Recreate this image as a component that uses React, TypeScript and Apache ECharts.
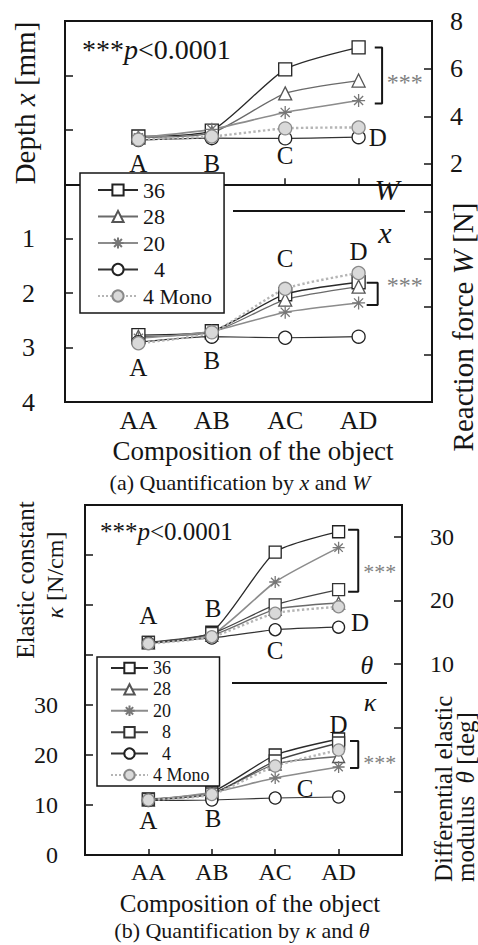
import React, { useEffect, useRef } from "react";
import * as echarts from "echarts";

// ---- data ----
const categories = ["AA", "AB", "AC", "AD"];
const groupsA = ["36", "28", "20", "4", "4 Mono"];
const groupsB = ["36", "28", "20", "8", "4", "4 Mono"];

// (a) reaction force W [N]
const w36 = [3.15, 3.4, 5.97, 6.89];
const w28 = [3.1, 3.3, 4.96, 5.5];
const w20 = [3.1, 3.45, 4.16, 4.66];
const w4 = [3.0, 3.08, 3.07, 3.12];
const wMono = [3.02, 3.15, 3.49, 3.53];

// (a) depth x [mm]
const x36 = [2.77, 2.7, 2.02, 1.8];
const x28 = [2.8, 2.72, 2.12, 1.88];
const x20 = [2.83, 2.7, 2.35, 2.18];
const x4 = [2.9, 2.8, 2.82, 2.8];
const xMono = [2.92, 2.72, 1.92, 1.63];

// (b) differential elastic modulus theta [deg]
const t36 = [13.4, 15.0, 27.6, 30.8];
const t28 = [13.3, 14.5, 18.6, 19.6];
const t20 = [13.3, 14.6, 22.9, 28.3];
const t8 = [13.4, 14.8, 19.3, 21.7];
const t4 = [13.3, 14.1, 15.4, 15.8];
const tMono = [13.2, 14.3, 18.0, 19.0];

// (b) elastic constant kappa [N/cm]
const k36 = [11.2, 12.6, 20.0, 23.2];
const k28 = [11.0, 12.3, 18.2, 19.7];
const k20 = [11.0, 12.5, 15.4, 17.6];
const k8 = [11.1, 12.2, 18.8, 22.4];
const k4 = [10.9, 11.0, 11.4, 11.6];
const kMono = [11.0, 12.1, 17.8, 21.0];

// letter annotations [x, value, text]
const lettersW = [[1, 2.0, "A"], [2, 2.0, "B"], [3, 2.35, "C"], [4.26, 3.1, "D"]];
const lettersX = [[1, 3.36, "A"], [2, 3.23, "B"], [3, 1.37, "C"], [4, 1.24, "D"]];
const lettersT = [[1, 17.7, "A"], [2.02, 18.8, "B"], [3, 12.2, "C"], [4.34, 16.6, "D"]];
const lettersK = [[1, 7.0, "A"], [2.02, 7.4, "B"], [3.47, 13.4, "C"], [4, 26.2, "D"]];

// significance brackets [xStart, xEnd, top, bottom] and star positions [x, value]
const bracketW = [4.22, 4.32, 6.89, 4.54];
const bracketX = [4.11, 4.26, 1.81, 2.22];
const bracketT = [4.15, 4.31, 31.1, 21.35];
const bracketK = [4.18, 4.31, 22.8, 17.4];
const starsW = [4.63, 5.45];
const starsX = [4.63, 1.85];
const starsT = [4.65, 24.6];
const starsK = [4.65, 18.6];

const FONT = "'Liberation Serif', 'DejaVu Serif', serif";
const INK = "#151515";
const STAR = "#808080";
const ASTERISK =
  "path://M5,0L5,10M0,5L10,5M1.5,1.5L8.5,8.5M1.5,8.5L8.5,1.5";

const groupStyle: Record<string, any> = {
  "36": { symbol: "rect", line: "#2a2a2a", stroke: "#222", fill: "#fff", lw: 1.3, type: "solid" },
  "28": { symbol: "triangle", line: "#6a6a6a", stroke: "#555", fill: "#fff", lw: 1.3, type: "solid" },
  "20": { symbol: ASTERISK, line: "#8c8c8c", stroke: "#777", fill: "#777", lw: 1.6, type: "solid" },
  "8": { symbol: "rect", line: "#444", stroke: "#333", fill: "#fff", lw: 1.3, type: "solid" },
  "4": { symbol: "circle", line: "#333", stroke: "#222", fill: "#fff", lw: 1.2, type: "solid" },
  "4 Mono": { symbol: "circle", line: "#b5b5b5", stroke: "#8a8a8a", fill: "#d9d9d9", lw: 2.4, type: "dotted" },
};

function lineSeries(name: string, values: number[], xi: number, yi: number, size: number) {
  const s = groupStyle[name];
  return {
    type: "line",
    name,
    xAxisIndex: xi,
    yAxisIndex: yi,
    data: values.map((v, i) => [i + 1, v]),
    smooth: 0.2,
    symbol: s.symbol,
    symbolSize: size,
    showAllSymbol: true,
    lineStyle: { color: s.line, width: s.lw, type: s.type },
    itemStyle: { color: s.fill, borderColor: s.stroke, borderWidth: 1.3 },
    z: 3,
  };
}

// text placed at data coordinates (letters and significance stars)
function letterSeries(items: any[], xi: number, yi: number, fontSize: number, color = INK) {
  return {
    type: "scatter",
    xAxisIndex: xi,
    yAxisIndex: yi,
    silent: true,
    symbol: "circle",
    symbolSize: 1,
    itemStyle: { color: "#ffffff", opacity: 1 },
    z: 5,
    data: items.map((d) => ({ value: [d[0], d[1]], name: d[2] })),
    label: {
      show: true,
      position: [0.5, 0.5],
      align: "center",
      verticalAlign: "middle",
      formatter: "{b}",
      fontFamily: FONT,
      fontSize,
      color,
      opacity: 1,
      textBorderWidth: 0,
    },
  };
}

function bracketSeries(b: number[], xi: number, yi: number) {
  return {
    type: "line",
    xAxisIndex: xi,
    yAxisIndex: yi,
    silent: true,
    symbol: "none",
    lineStyle: { color: INK, width: 2 },
    data: [
      [b[0], b[2]],
      [b[1], b[2]],
      [b[1], b[3]],
      [b[0], b[3]],
    ],
    z: 4,
  };
}

function starSeries(p: number[], xi: number, yi: number, fontSize: number) {
  return letterSeries([[p[0], p[1], "***"]], xi, yi, fontSize, STAR);
}

function makeOption() {
  const legendName = (n: string) => (n.length === 1 ? "\u2007" + n : n);
  const tickLabel = (fontSize: number, margin: number, show: (v: number) => boolean) => ({
    fontFamily: FONT,
    fontSize,
    color: INK,
    margin,
    formatter: (v: number) => (show(v) ? String(v) : ""),
  });
  const axisCommon = {
    axisLine: { show: true, lineStyle: { color: INK, width: 2 } },
    splitLine: { show: false },
  };
  const xAxisFor = (gridIndex: number, fontSize: number) => ({
    gridIndex,
    type: "value",
    min: 0,
    max: 5,
    interval: 1,
    ...axisCommon,
    axisTick: { inside: true, length: 6, lineStyle: { color: INK, width: 1.5 } },
    axisLabel: {
      fontFamily: FONT,
      fontSize,
      color: INK,
      margin: 5,
      formatter: (v: number) => categories[v - 1] ?? "",
    },
  });
  const yTick = { inside: true, length: 8, lineStyle: { color: INK, width: 1.5 } };

  const rich = (size: number) => ({
    n: { fontFamily: FONT, fontSize: size, color: INK },
    i: { fontFamily: FONT, fontSize: size, fontStyle: "italic", color: INK },
    s: { fontFamily: FONT, fontSize: size, color: STAR },
  });
  const txt = (x: number, y: number, text: string, size: number, extra: any = {}) => ({
    type: "text",
    x,
    y,
    silent: true,
    style: {
      text,
      rich: rich(size),
      fontFamily: FONT,
      fontSize: size,
      fill: INK,
      align: "center",
      verticalAlign: "middle",
      ...extra,
    },
  });
  const vtxt = (x: number, y: number, text: string, size: number, align = "center") => ({
    ...txt(x, y, text, size, { align }),
    rotation: Math.PI / 2,
  });
  const arrow = (pts: number[][], head: number[][]) => [
    { type: "polyline", silent: true, shape: { points: pts }, style: { stroke: "#333", lineWidth: 2, fill: null } },
    { type: "polygon", silent: true, shape: { points: head }, style: { fill: "#3a3a3a", stroke: "#3a3a3a", lineWidth: 1 } },
  ];

  return {
    animation: false,
    backgroundColor: "#fff",
    textStyle: { fontFamily: FONT },
    grid: [
      { left: 65, top: 21, width: 367, height: 381, show: true, borderColor: INK, borderWidth: 2, backgroundColor: "transparent" },
      { left: 85, top: 505, width: 317, height: 350, show: true, borderColor: INK, borderWidth: 2, backgroundColor: "transparent" },
    ],
    xAxis: [xAxisFor(0, 26), xAxisFor(1, 24)],
    yAxis: [
      {
        gridIndex: 0, type: "value", position: "left", inverse: true, min: -3, max: 4, interval: 1,
        ...axisCommon, axisTick: yTick, axisLabel: tickLabel(26, 30, (v) => v >= 1),
      },
      {
        gridIndex: 0, type: "value", position: "right", min: -8, max: 8, interval: 2,
        ...axisCommon, axisTick: yTick, axisLabel: tickLabel(26, 18, (v) => v >= 2),
      },
      {
        gridIndex: 1, type: "value", position: "left", min: 0, max: 70, interval: 10,
        ...axisCommon, axisTick: yTick, axisLabel: tickLabel(24, 27, (v) => v <= 30),
      },
      {
        gridIndex: 1, type: "value", position: "right", min: -20, max: 35, interval: 10,
        ...axisCommon, axisTick: yTick, axisLabel: tickLabel(24, 28, (v) => v >= 10 && v <= 30),
      },
    ],
    legend: [
      {
        data: groupsA, orient: "vertical", left: 80, top: 173,
        itemWidth: 40, itemHeight: 14, itemGap: 4.5, padding: [6, 12, 6, 17],
        borderColor: INK, borderWidth: 1.5, backgroundColor: "#fff", selectedMode: false,
        formatter: legendName,
        textStyle: { fontFamily: FONT, fontSize: 22, color: INK },
      },
      {
        data: groupsB, orient: "vertical", left: 97, top: 657,
        itemWidth: 37, itemHeight: 13, itemGap: 3.4, padding: [2, 10, 2, 13],
        borderColor: INK, borderWidth: 1.5, backgroundColor: "#fff", selectedMode: false,
        formatter: legendName,
        textStyle: { fontFamily: FONT, fontSize: 18, color: INK },
      },
    ],
    series: [
      // (a) upper half: W on the right axis
      lineSeries("36", w36, 0, 1, 13),
      lineSeries("28", w28, 0, 1, 13),
      lineSeries("20", w20, 0, 1, 13),
      lineSeries("4", w4, 0, 1, 13),
      lineSeries("4 Mono", wMono, 0, 1, 13),
      // (a) lower half: depth x on the inverted left axis
      lineSeries("36", x36, 0, 0, 13),
      lineSeries("28", x28, 0, 0, 13),
      lineSeries("20", x20, 0, 0, 13),
      lineSeries("4", x4, 0, 0, 13),
      lineSeries("4 Mono", xMono, 0, 0, 13),
      // (b) upper half: theta on the right axis
      lineSeries("36", t36, 1, 3, 12),
      lineSeries("28", t28, 1, 3, 12),
      lineSeries("20", t20, 1, 3, 12),
      lineSeries("8", t8, 1, 3, 12),
      lineSeries("4", t4, 1, 3, 12),
      lineSeries("4 Mono", tMono, 1, 3, 12),
      // (b) lower half: kappa on the left axis
      lineSeries("36", k36, 1, 2, 12),
      lineSeries("28", k28, 1, 2, 12),
      lineSeries("20", k20, 1, 2, 12),
      lineSeries("8", k8, 1, 2, 12),
      lineSeries("4", k4, 1, 2, 12),
      lineSeries("4 Mono", kMono, 1, 2, 12),
      letterSeries(lettersW, 0, 1, 25),
      letterSeries(lettersX, 0, 0, 25),
      letterSeries(lettersT, 1, 3, 25),
      letterSeries(lettersK, 1, 2, 25),
      bracketSeries(bracketW, 0, 1),
      bracketSeries(bracketX, 0, 0),
      bracketSeries(bracketT, 1, 3),
      bracketSeries(bracketK, 1, 2),
      starSeries(starsW, 0, 1, 24),
      starSeries(starsX, 0, 0, 24),
      starSeries(starsT, 1, 3, 22),
      starSeries(starsK, 1, 2, 22),
    ],
    graphic: [
      // panel (a)
      txt(82, 49, "{s|***}{i|p}{n|<0.0001}", 28, { align: "left" }),
      txt(387, 189, "{i|W}", 30),
      { type: "line", silent: true, shape: { x1: 233, y1: 211, x2: 405, y2: 211 }, style: { stroke: INK, lineWidth: 2 } },
      txt(385, 232, "{i|x}", 30),
      ...arrow([[175, 241.5], [189, 241.5], [189, 232]], [[189, 224], [184.5, 233], [193.5, 233]]),
      vtxt(25, 103, "{n|Depth }{i|x}{n| [mm]}", 29),
      vtxt(463, 327, "{n|Reaction force }{i|W}{n| [N]}", 29),
      txt(253, 451, "Composition of the object", 27),
      txt(240, 482, "{n|(a) Quantification by }{i|x}{n| and }{i|W}", 22),
      // panel (b)
      txt(100, 531, "{s|***}{i|p}{n|<0.0001}", 25, { align: "left" }),
      txt(367, 665, "{i|θ}", 26),
      { type: "line", silent: true, shape: { x1: 232, y1: 683, x2: 387, y2: 683 }, style: { stroke: INK, lineWidth: 2 } },
      txt(370, 702, "{i|κ}", 26),
      ...arrow([[173, 712], [185, 712], [185, 701]], [[185, 693], [181, 702], [189, 702]]),
      ...arrow([[173, 735], [198, 735], [198, 727]], [[198, 718], [194, 727], [202, 727]]),
      vtxt(25, 580, "{n|Elastic constant}", 25),
      vtxt(55, 575, "{i|κ}{n| [N/cm]}", 24),
      vtxt(443, 882, "{n|Differential elastic}", 25, "left"),
      vtxt(465, 882, "{n|modulus  }{i|θ}{n| [deg]}", 25, "left"),
      txt(250, 903, "Composition of the object", 25),
      txt(242, 930, "{n|(b) Quantification by }{i|κ}{n| and }{i|θ}", 22),
    ],
  };
}

export default function App() {
  const ref = useRef<HTMLDivElement>(null);
  useEffect(() => {
    if (!ref.current) return;
    const chart = echarts.init(ref.current, undefined, { renderer: "svg" });
    chart.setOption(makeOption() as any);
    return () => chart.dispose();
  }, []);
  return (
    <div
      ref={ref}
      style={{ position: "fixed", left: 0, top: 0, width: 478, height: 945, background: "#fff" }}
    />
  );
}
